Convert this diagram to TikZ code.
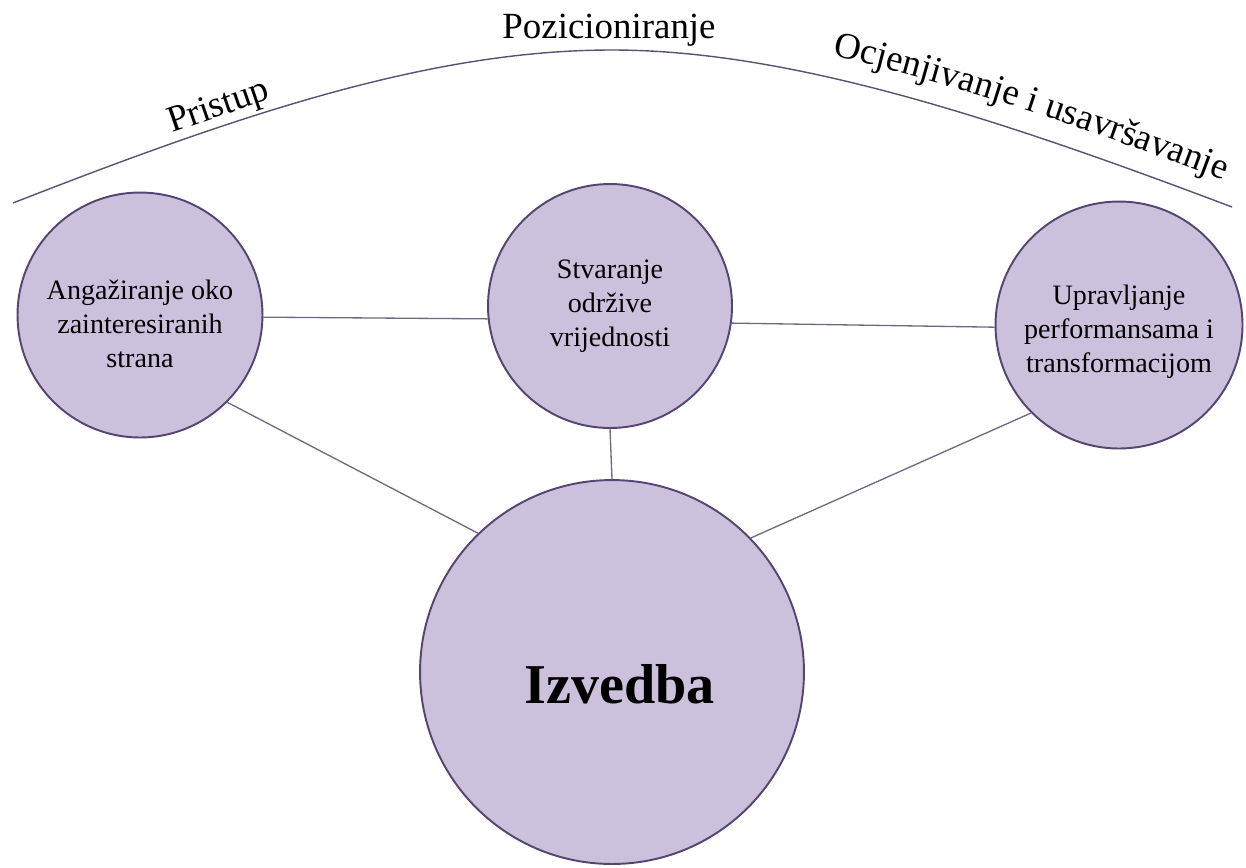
\documentclass[tikz,border=0pt]{standalone}
\usepackage{fontspec}
\setmainfont{Liberation Serif}
\usetikzlibrary{decorations.text}

\definecolor{circfill}{RGB}{204,193,220}
\definecolor{circline}{RGB}{84,70,112}
\definecolor{linkcol}{RGB}{110,104,130}
\definecolor{arccol}{RGB}{88,82,115}

\newcommand\circfont{\fontsize{16}{19.5}\selectfont}
\newcommand\toplab{\fontsize{21}{24}\selectfont}

\tikzset{
  circ/.style={draw=circline, line width=1.1pt, fill=circfill, circle, inner sep=0pt, align=center, font=\circfont},
  link/.style={draw=linkcol, line width=0.75pt},
  arcline/.style={draw=arccol, line width=0.8pt},
  toptext/.style={inner sep=0pt, font=\toplab}
}

\begin{document}
\begin{tikzpicture}[x=0.02cm, y=-0.02cm]
\useasboundingbox (0,0) rectangle (1246,867);
% arc with the stages
\draw[arcline] (13,203) .. controls (243,113) and (432,50) .. (612,50)
  .. controls (792,50) and (1002,120) .. (1232,207);
\node (pri)[toptext, rotate=19] at (219,108) {Pristup};
\node (poz)[toptext] at (609,30) {Pozicioniranje};
\path[decorate, decoration={text along path, raise=0.44cm, text align={left indent=4.35cm},
  text={|\toplab|Ocjenjivanje i usavršavanje}}]
  (612,50) .. controls (792,50) and (1002,120) .. (1232,207) -- (1330,240);
% circles
\node (ang)[circ, minimum size=4.9cm, text height=60.4pt] at (140,315) {Angažiranje oko\\zainteresiranih\\strana};
\node (stv)[circ, minimum size=4.88cm] at (610,306) {Stvaranje\\održive\\vrijednosti};
\node (upr)[circ, minimum size=4.94cm, text height=57.6pt] at (1119,325) {Upravljanje\\performansama i\\transformacijom};
\node (izv)[circ, minimum size=7.68cm, font=\fontsize{32}{38}\selectfont\bfseries,
  text height=1.24cm, text depth=0pt] at (612,672) {\hspace{0.3cm}Izvedba};
% links
\draw[link] (ang.-1) -- (stv.186);
\draw[link] (stv.-8) -- (upr.181);
\draw[link] (ang.-45) -- (izv.134);
\draw[link] (stv.south) -- (izv.north);
\draw[link] (upr.225) -- (izv.44);
\end{tikzpicture}
\end{document}
